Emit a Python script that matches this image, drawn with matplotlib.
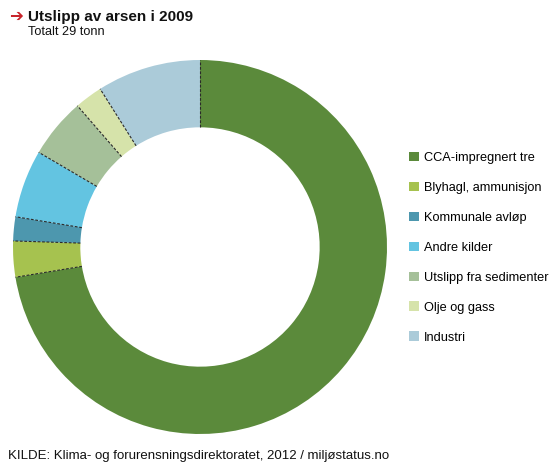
import numpy as np
import matplotlib
matplotlib.use('Agg')
import matplotlib.pyplot as plt
from matplotlib.patches import Patch

plt.rcParams['font.family'] = ['Liberation Sans', 'DejaVu Sans']

sources = ['CCA-impregnert tre', 'Blyhagl, ammunisjon', 'Kommunale avløp',
           'Andre kilder', 'Utslipp fra sedimenter', 'Olje og gass', 'Industri']
tonn = [21.0, 0.9, 0.6, 1.7, 1.5, 0.7, 2.6]
colors = ['#5b8a3b', '#a6c24f', '#4d97ae', '#63c4e1', '#a5c099', '#d6e3aa', '#abcbd9']

W, H = 552, 466
fig = plt.figure(figsize=(W/100, H/100), dpi=100)

# donut
ax = fig.add_axes([13/W, (H-434)/H, 374/W, 374/H])
r_in = 0.64
wedges, _ = ax.pie(tonn, colors=colors, startangle=90, counterclock=False,
                   radius=1, wedgeprops=dict(width=1-r_in, linewidth=0))
# dashed separators between slices
bounds = 90 - np.cumsum([0] + tonn[:-1]) / sum(tonn) * 360
for a in np.deg2rad(bounds):
    ax.plot([r_in*np.cos(a), np.cos(a)], [r_in*np.sin(a), np.sin(a)],
            color='#2a2a2a', lw=0.8, ls=(0, (2.5, 1.5)))
ax.set_xlim(-1, 1)
ax.set_ylim(-1, 1)
ax.set_aspect('equal')
ax.axis('off')

# legend
handles = [Patch(facecolor=c, edgecolor='none') for c in colors]
fig.legend(handles, sources, loc='upper left', bbox_to_anchor=(409/W, 1-152/H),
           frameon=False, fontsize=9.2, handlelength=0.75, handleheight=0.75,
           handletextpad=0.4, labelspacing=1.39, borderaxespad=0, borderpad=0)

# titles
fig.text(9/W, 1-16/H, '➔', color='#c8242b', fontsize=12, fontweight='bold',
         family='DejaVu Sans', va='center', ha='left')
fig.text(28/W, 1-17/H, 'Utslipp av arsen i 2009', fontsize=11, fontweight='bold',
         va='center', ha='left', color='#111111')
fig.text(28/W, 1-32/H, 'Totalt 29 tonn', fontsize=9.2, va='center', ha='left',
         color='#111111')
fig.text(8/W, 1-456/H, 'KILDE: Klima- og forurensningsdirektoratet, 2012 / miljøstatus.no',
         fontsize=9.5, va='center', ha='left', color='#111111')

fig.savefig('out.png', dpi=100)
